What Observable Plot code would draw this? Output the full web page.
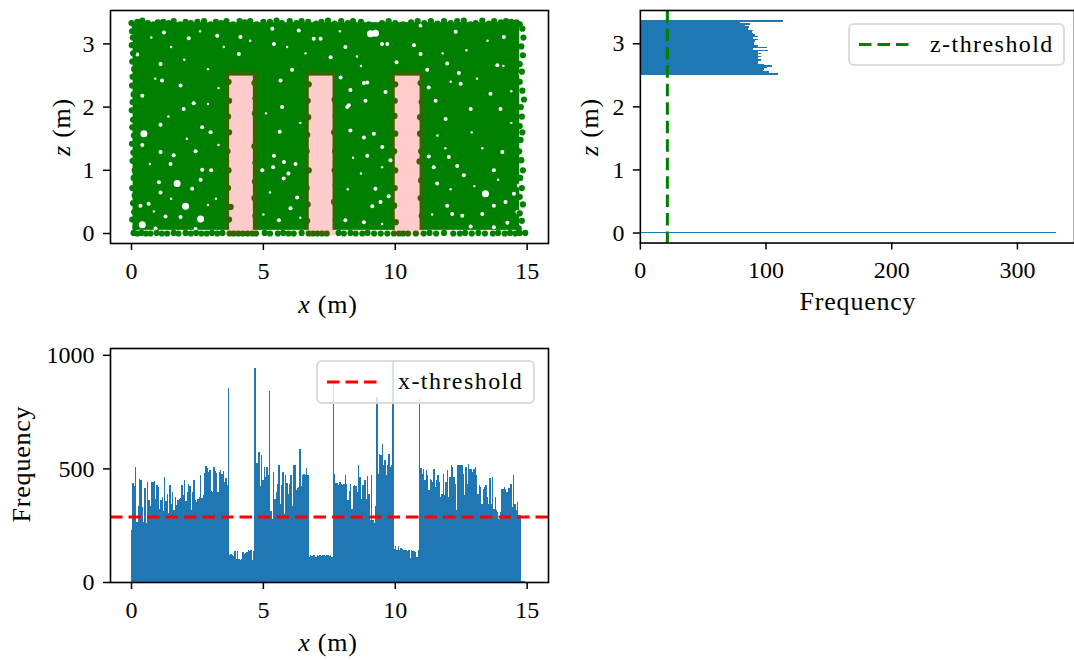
<!DOCTYPE html>
<html><head><meta charset="utf-8">
<script src="https://cdn.jsdelivr.net/npm/d3@7"></script>
<script src="https://cdn.jsdelivr.net/npm/@observablehq/plot@0.6"></script>
<style>
html,body{margin:0;padding:0;background:#fff;overflow:hidden;width:1074px;height:660px;font-family:"Liberation Serif",serif;color:#000}
#page{position:relative;width:1074px;height:660px;overflow:hidden}
.panel{position:absolute;overflow:visible}
.lab{position:absolute;font-size:26px;letter-spacing:.03em;white-space:nowrap;transform:translate(-50%,-50%)}
.rot{transform:translate(-50%,-50%) rotate(-90deg)}
.legend{position:absolute;box-sizing:border-box;border:2px solid #dcdcdc;border-radius:6px;background:rgba(255,255,255,.8);font-size:24px;letter-spacing:.06em;white-space:nowrap}
.legend svg{position:absolute;left:9px;top:0}
.legend span{position:absolute;left:80px;top:50%;transform:translateY(-52%)}
</style></head><body><div id="page"></div>
<script>
// The dense interior of the scatter (thousands of overlapping dots) is not typed point by point:
const xTicks=[0,5,10,15], zTicks=[0,1,2,3], freqTicksZ=[0,100,200,300], freqTicksX=[0,500,1000];
const xThreshold=288, zThreshold=21.5;
const binX=0.0503, binZ=0.0246, zBinBase=2.505;

const xFreqWallA=[227,437,422,508,264,333,454,447,330,264,415,259,442,359,334,442,438,444,365,428,418,322,359,372,312,460,355,388,305,429,344,398,319,374,341,363,366,368,429,384,451,356,396,432,422,318,396,450,362,353,366,372,473,371,382,479,510,500,484,491,400,398,505,488,481,398,482,494,476,488,442,456,425,856];
const xFreqOpenA=[117,122,117,113,135,103,135,103,98,103,132,125,129,132,142,136,139,97,135];
const xFreqWallB=[944,526,523,571,422,560,450,508,462,508,469,842,311,278,483,366,396,432,517,344,429,483,300,469,435,388,432,473,334,514,517,406,413,420,587,422,473,476,473,500,470];
const xFreqOpenB=[110,117,113,120,117,110,120,113,117,113,120,117,113,120,117,113,117,110];
const xFreqWallC=[886,476,437,437,428,438,432,429,432,469,432,359,400,432,322,423,425,422,396,516,462,366,425,428,447,366,465,388,271,469,271,259,334,816,476,564,557,608,513,535,469,513,564,505,513,977];
const xFreqOpenC=[146,157,139,157,139,151,146,139,142,139,135,139,105,142,136,136,132,112,142];
const xFreqWallD=[806,503,476,498,447,491,469,403,454,447,440,498,418,447,469,440,374,388,476,381,440,491,374,462,513,505,462,432,315,517,517,513,517,476,381,508,432,520,498,498,483,498,505,469,388,425,418,344,410,418,425,374,344,459,344,464,322,374,315,308,278,308,410,410,418,410,396,413,413,432,330,469,344,315,352,293,293,5,3,5];
const xFreq=[...xFreqWallA,...xFreqOpenA,...xFreqWallB,...xFreqOpenB,...xFreqWallC,...xFreqOpenC,...xFreqWallD];

const zFreqTop=[114,80,88,84,87,86,90,89,90,92,94,90,94,92,91,91,94,101,90,102,94,96,94,96,94,96,94,94,99,105,101,99,98,103,110];
const zFreqGround=[{z:-0.006,z2:0.01,f:331}];

const cloudBlocks=[[0.06,14.72,2.49,3.335],[0.06,3.72,0.05,2.5],[4.62,6.74,0.05,2.5],[7.64,10.0,0.05,2.5],[10.94,14.72,0.05,2.5]];
const openings=[[3.6,4.79],[6.6,7.75],[9.89,11.08]];
const openingZ=[-0.04,2.55];

const edgeTop=[[0,3.33],[.12,3.28],[.22,3.35],[.41,3.37],[.62,3.33],[.82,3.31],[1,3.34],[1.2,3.35],[1.4,3.33],[1.6,3.36],[1.85,3.31],[2.05,3.35],[2.25,3.33],[2.5,3.35],[2.75,3.36],[3,3.31],[3.2,3.35],[3.4,3.33],[3.6,3.36],[3.85,3.31],[4.1,3.36],[4.3,3.34],[4.5,3.36],[4.75,3.31],[5,3.35],[5.25,3.35],[5.5,3.37],[5.7,3.33],[6,3.36],[6.25,3.33],[6.45,3.36],[6.7,3.35],[7,3.32],[7.2,3.35],[7.45,3.37],[7.7,3.32],[7.95,3.36],[8.2,3.33],[8.4,3.36],[8.7,3.35],[9,3.31],[9.25,3.29],[9.5,3.33],[9.75,3.36],[10,3.33],[10.3,3.31],[10.6,3.34],[10.85,3.36],[11.1,3.33],[11.35,3.36],[11.6,3.32],[11.85,3.36],[12.1,3.33],[12.35,3.36],[12.6,3.37],[12.85,3.31],[13.05,3.33],[13.3,3.37],[13.55,3.32],[13.75,3.36],[14,3.34],[14.2,3.36],[14.4,3.35],[14.6,3.34],[14.72,3.31]];
const edgeBottom=[[.08,.01],[.22,0],[.38,.01],[.55,0],[.72,0],[.95,.01],[1.15,0],[1.35,0],[1.6,.01],[1.78,0],[2.05,.01],[2.25,0],[2.45,.01],[2.65,0],[2.85,0],[3.05,.01],[3.25,0],[3.45,.01],[3.72,0],[3.88,0],[4.05,0],[4.22,0],[4.4,0],[4.58,0],[4.72,0],[5.05,.01],[5.25,0],[5.55,0],[5.75,.01],[5.95,0],[6.15,0],[6.45,.01],[6.72,0],[6.88,0],[7.05,0],[7.22,0],[7.4,0],[7.85,.01],[8.05,0],[8.3,.01],[8.5,0],[8.75,0],[8.95,.01],[9.2,0],[9.45,0],[9.7,0],[9.95,0],[10.15,0],[10.3,0],[10.48,0],[10.78,0],[11.08,0],[11.3,.01],[11.55,0],[11.85,.01],[12.2,0],[12.45,0],[12.65,.01],[12.9,0],[13.15,.01],[13.4,0],[13.7,0],[13.9,.01],[14.15,0],[14.35,.01],[14.55,0],[14.72,.01],[14.93,.01]];
const edgeLeft=[[.02,3.2],[.05,3.1],[.01,2.98],[.06,2.85],[.03,2.72],[.1,2.6],[.04,2.48],[.02,2.34],[.08,2.2],[.04,2.08],[.01,1.95],[.06,1.8],[.03,1.68],[.09,1.55],[.02,1.42],[.07,1.28],[.04,1.15],[.12,1],[.08,.88],[.03,.72],[.12,.6],[.06,.48],[.1,.34],[.03,.22],[.15,.1]];
const edgeRight=[[14.82,3.24],[14.86,3.1],[14.78,2.96],[14.84,2.82],[14.72,2.68],[14.8,2.56],[14.72,2.4],[14.82,2.26],[14.88,2.12],[14.76,2],[14.8,1.85],[14.72,1.7],[14.82,1.6],[14.75,1.48],[14.7,1.3],[14.78,1.16],[14.84,1],[14.74,.88],[14.8,.72],[14.72,.58],[14.84,.46],[14.72,.32],[14.8,.2],[14.68,.08]];
const edgeOpenings=[[3.68,2.4],[3.7,2.1],[3.66,1.85],[3.7,1.6],[3.64,1.3],[3.68,1],[3.66,.72],[3.76,.42],[3.7,.22],[4.66,2.38],[4.7,2.14],[4.68,1.9],[4.72,1.62],[4.66,1.38],[4.7,1.12],[4.68,.82],[4.66,.56],[4.7,.28],[4.76,.14],[6.72,2.36],[6.68,2.1],[6.7,1.84],[6.66,1.56],[6.64,1.3],[6.72,1],[6.64,.72],[6.68,.46],[6.66,.2],[7.76,2.36],[7.7,2.12],[7.74,1.86],[7.68,1.6],[7.72,1.3],[7.7,1],[7.74,.76],[7.68,.5],[7.74,.22],[10,2.36],[9.98,2.1],[9.97,1.86],[10,1.58],[9.96,1.3],[10,1],[9.98,.72],[9.96,.44],[10.02,.18],[10.96,2.38],[11,2.08],[10.94,1.84],[10.94,1.58],[10.98,1.3],[10.92,1.14],[10.98,.84],[10.96,.56],[11,.28]];

const gapsLarge=[[.41,.14],[1.73,.79],[13.42,.63],[9.06,3.16],[9.25,3.17],[.47,1.58],[2.62,.23],[2.05,.43],[14.86,1.39]];
const gapsSmall=[[.41,1.4],[1.1,1.29],[2.43,1.3],[2.68,1.01],[1.04,.81],[1.1,.65],[2.62,.85],[2.43,.07],[1.29,.27],[5.4,1.23],[5.37,1.05],[4.96,1],[6.28,.57],[5.59,.21],[5.62,1.61],[1.1,1.72],[.34,.44],[.65,.47],[1.6,1.24],[1.48,1.1],[3,1.6],[2.68,1.68],[3.02,1],[2.3,.71],[6.22,1.1],[5.78,1.13],[5.95,.95],[5.77,.87],[6.03,.4],[.91,.08],[1.86,.26],[1.23,3.18],[2.17,3.09],[3.25,3.13],[4.07,2.84],[5.34,3.24],[6.09,2.59],[6.91,3.08],[.22,2.83],[5.4,3],[1.1,2.68],[.41,2.18],[2.36,2.06],[1.16,2.42],[5.65,2.42],[8.94,2.39],[8.18,2],[5.71,2],[1.98,1.97],[7.17,3.08],[8.11,2.95],[9.7,3],[1.86,2.34],[4.13,3.11],[6.34,3.21],[7.55,2.79],[9.5,3],[10.71,2.98],[10.96,2.84],[11.21,2.59],[11.53,2.1],[8.81,2.38],[10.05,2.71],[14.12,3.11],[14.75,2.53],[12.29,3.19],[12.41,2.54],[11.27,2.31],[13.87,2.66],[12.48,2.37],[13.61,2.21],[12.86,1.97],[13.99,1.97],[11.91,1.81],[8.87,2.1],[8.24,2.03],[9.63,2.24],[8.3,2.27],[7.93,2.47],[10.96,3.29],[11.97,2.69],[8.81,1.52],[9.19,1.58],[8.94,1.23],[9.51,1.37],[14.06,1.29],[11.27,1.22],[12.03,1.21],[12.35,1.07],[11.46,1.05],[13.74,1],[12.6,.92],[9.25,.71],[11.59,.79],[14.69,.76],[13.74,.44],[9.44,.5],[9.13,.43],[14.5,.63],[14.63,.34],[8.81,.18],[8.11,.21],[13.74,.1],[14.25,.17],[12.86,.11],[11.97,.44],[12.16,.31],[12.54,.28],[13.3,.31],[14.18,.5],[8.3,1.63],[9.82,1.16],[9.75,.59]];
const gapsTiny=[[.75,3.1],[1.5,2.95],[2.6,3.2],[3.5,2.95],[4.5,3.05],[5.9,2.95],[6.6,2.85],[7.9,3.2],[8.55,2.8],[.9,2.45],[2,2.75],[2.9,2.6],[3.3,2.3],[6.9,2.3],[8.7,2.65],[1.4,1.85],[2.9,2.05],[.7,1.1],[2.1,1.5],[3.3,1.4],[3.2,.55],[.85,.35],[1.5,.55],[2.9,.45],[5.1,1.9],[6.4,1.75],[5.25,.65],[6.4,.25],[5,.3],[8.4,1.2],[9.5,1.05],[8.2,.7],[8.7,.95],[9.5,.15],[11.8,2.85],[12.7,2.9],[13.1,2.45],[13.5,3.05],[14.4,2.25],[12.1,2.4],[12.9,1.6],[13.3,1.35],[11.6,1.55],[13.9,.85],[12.1,.7],[11.4,.3],[13,.75],[14.1,2.65],[14.4,1.75],[11.9,1.35]];

const BLUE="#1f77b4", GREEN="#008000", RED="#ff0000";
const common={style:{background:"transparent",fontFamily:"'Liberation Serif',serif",fontSize:"24px",color:"#000",overflow:"visible"}};
const axisOpts={tickSize:7,strokeWidth:1.5,fontSize:24,label:null,tickFormat:"d"};
const xAxis=t=>Plot.axisX(t,{...axisOpts,tickPadding:11});
const yAxis=t=>Plot.axisY(t,{...axisOpts,tickPadding:9});
const page=document.getElementById("page");
function place(el,left,top){const d=document.createElement("div");d.className="panel";d.style.left=left+"px";d.style.top=top+"px";d.appendChild(el);page.appendChild(d)}

const dots=[...edgeTop,...edgeBottom,...edgeLeft,...edgeRight,...edgeOpenings];
place(Plot.plot({...common,width:560,height:300,marginLeft:110,marginRight:12,marginTop:10,marginBottom:57,
  x:{domain:[-0.796,15.81]},y:{domain:[-0.158,3.528]},
  marks:[
    Plot.rect(cloudBlocks,{x1:d=>d[0],x2:d=>d[1],y1:d=>d[2],y2:d=>d[3],fill:GREEN}),
    Plot.dot(gapsTiny,{x:d=>d[0],y:d=>d[1],r:1.2,fill:"white"}),
    Plot.dot(gapsSmall,{x:d=>d[0],y:d=>d[1],r:2,fill:"white"}),
    Plot.dot(gapsLarge,{x:d=>d[0],y:d=>d[1],r:3.5,fill:"white"}),
    Plot.dot(dots,{x:d=>d[0],y:d=>d[1],r:3.1,fill:GREEN}),
    Plot.rect(openings,{x1:d=>d[0],x2:d=>d[1],y1:openingZ[0],y2:openingZ[1],fill:RED,fillOpacity:.2}),
    Plot.frame({stroke:"#000",strokeWidth:1.6}),
    xAxis(xTicks),
    yAxis(zTicks)
  ]}),0,0);

const zBars=zFreqTop.map((f,i)=>({f,z2:zBinBase+binZ*(zFreqTop.length-i),z:zBinBase+binZ*(zFreqTop.length-i-1)})).concat(zFreqGround);
place(Plot.plot({...common,width:515,height:300,marginLeft:80,marginRight:0,marginTop:10,marginBottom:57,
  x:{domain:[0,345.4]},y:{domain:[-0.158,3.528]},
  marks:[
    Plot.rect(zBars,{x1:0,x2:"f",y1:"z",y2:"z2",fill:BLUE,shapeRendering:"crispEdges"}),
    Plot.ruleX([zThreshold],{stroke:GREEN,strokeWidth:3,strokeDasharray:"12.5,6"}),
    Plot.frame({stroke:"#000",strokeWidth:1.6}),
    xAxis(freqTicksZ),
    yAxis(zTicks)
  ]}),560,0);

const xBars=xFreq.map((f,i)=>({f,a:i*binX,b:(i+1)*binX}));
place(Plot.plot({...common,width:560,height:300,marginLeft:110,marginRight:12,marginTop:10,marginBottom:56,
  x:{domain:[-0.796,15.81]},y:{domain:[0,1030]},
  marks:[
    Plot.rect(xBars,{x1:"a",x2:"b",y1:0,y2:"f",fill:BLUE,shapeRendering:"crispEdges"}),
    Plot.ruleY([xThreshold],{stroke:RED,strokeWidth:3,strokeDasharray:"12.5,6"}),
    Plot.frame({stroke:"#000",strokeWidth:1.6}),
    xAxis(xTicks),
    yAxis(freqTicksX)
  ]}),0,338);

function lab(html,x,y,rot){const d=document.createElement("div");d.className="lab"+(rot?" rot":"");d.innerHTML=html;d.style.left=x+"px";d.style.top=y+"px";page.appendChild(d)}
lab("<i>x</i> (m)",328,305);
lab("<i>z</i> (m)",62,127,true);
lab("Frequency",858,302);
lab("<i>z</i> (m)",590,127,true);
lab("<i>x</i> (m)",328,643);
lab("Frequency",22,464,true);

function legend(text,color,l,t,w,h){const d=document.createElement("div");d.className="legend";
  d.style.cssText=`left:${l}px;top:${t}px;width:${w}px;height:${h}px`;
  d.innerHTML=`<svg width="56" height="${h}"><line x1="0" x2="50" y1="${h/2-2}" y2="${h/2-2}" stroke="${color}" stroke-width="3" stroke-dasharray="12.5,6"/></svg><span>${text}</span>`;
  page.appendChild(d)}
legend("z-threshold",GREEN,848,23,217,43);
legend("x-threshold",RED,316,360,219,44);
</script></body></html>
